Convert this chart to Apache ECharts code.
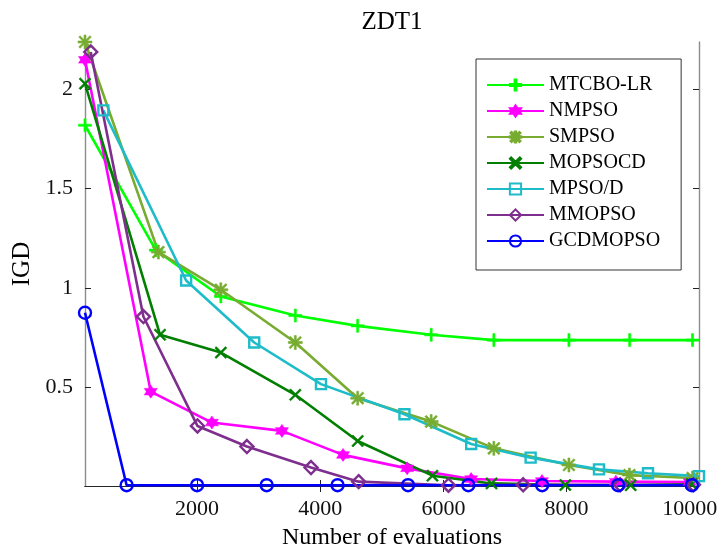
<!DOCTYPE html>
<html>
<head>
<meta charset="utf-8">
<script src="https://cdn.jsdelivr.net/npm/echarts@6/dist/echarts.min.js"></script>
<style>
  html, body { margin: 0; padding: 0; background: #fff; }
  #chart { width: 723px; height: 548px; }
</style>
</head>
<body>
<div id="chart"></div>
<script>
// axis range and tick labels
const xMin = 180, xMax = 10150;
const yMin = 0, yMax = 2.24;
const xTicks = [2000, 4000, 6000, 8000, 10000];
const yTicks = [0.5, 1, 1.5, 2];

// series values
const mtcboX = [180, 1330, 2386, 3595, 4608, 5801, 6819, 8038, 9025, 10045];
const mtcboY = [1.82, 1.19, 0.956, 0.86, 0.808, 0.763, 0.736, 0.736, 0.736, 0.736];
const nmpsoX = [180, 1248, 2240, 3378, 4370, 5411, 6450, 7600, 8800, 10000];
const nmpsoY = [2.15, 0.476, 0.32, 0.278, 0.157, 0.089, 0.035, 0.025, 0.022, 0.02];
const smpsoX = [180, 1372, 2386, 3595, 4608, 5801, 6819, 8038, 9020, 10045];
const smpsoY = [2.24, 1.18, 0.99, 0.724, 0.443, 0.325, 0.19, 0.106, 0.055, 0.04];
const mopsocdX = [180, 1399, 2386, 3595, 4608, 5822, 6781, 7979, 9041, 10030];
const mopsocdY = [2.03, 0.763, 0.673, 0.46, 0.227, 0.052, 0.013, 0.005, 0.004, 0.01];
const mpsodX = [478, 1822, 2928, 4012, 5367, 6451, 7416, 8526, 9322, 10150];
const mpsodY = [1.895, 1.037, 0.724, 0.514, 0.362, 0.212, 0.143, 0.084, 0.064, 0.05];
const mmopsoX = [273, 1128, 2006, 2809, 3850, 4624, 6082, 7295, 8870, 10060];
const mmopsoY = [2.19, 0.855, 0.303, 0.199, 0.093, 0.022, 0.004, 0.006, 0.006, 0.006];
const gcdX = [180, 856, 2000, 3130, 4281, 5425, 6404, 7603, 8836, 10034];
const gcdY = [0.874, 0.004, 0.004, 0.004, 0.004, 0.004, 0.004, 0.004, 0.004, 0.004];

// marker shapes (matlab style)
const plusPath = 'path://M4.2,0H5.8V4.2H10V5.8H5.8V10H4.2V5.8H0V4.2H4.2Z';
const crossPath = 'path://M0,1.1L1.1,0L10,8.9L8.9,10ZM8.9,0L10,1.1L1.1,10L0,8.9Z';
const starPath = 'path://M4.3,0H5.7V4.3H10V5.7H5.7V10H4.3V5.7H0V4.3H4.3ZM0.5,1.5L1.5,0.5L9.5,8.5L8.5,9.5ZM8.5,0.5L9.5,1.5L1.5,9.5L0.5,8.5Z';
const hexPath = 'path://M5,0L9.33,7.5L0.67,7.5ZM5,10L0.67,2.5L9.33,2.5Z';

const font = '"Liberation Serif", "Times New Roman", serif';

function zip(xs, ys) {
  return xs.map((x, i) => [x, ys[i]]);
}

function makeSeries(name, xs, ys, color, symbol, size, hollow) {
  return {
    name: name,
    type: 'line',
    data: zip(xs, ys),
    symbol: symbol,
    symbolSize: size,
    showAllSymbol: true,
    clip: false,
    lineStyle: { color: color, width: 2.6 },
    itemStyle: hollow
      ? { color: 'rgba(255,255,255,0)', borderColor: color, borderWidth: 2.4 }
      : { color: color, borderColor: color, borderWidth: 0.6 },
    emphasis: { disabled: true }
  };
}

const chart = echarts.init(document.getElementById('chart'));

const tickStyle = { inside: true, length: 6, lineStyle: { color: '#222', width: 1 } };

chart.setOption({
  backgroundColor: '#fff',
  animation: false,
  title: {
    text: 'ZDT1',
    left: 392,
    top: 10,
    padding: 0,
    textAlign: 'center',
    textStyle: { fontFamily: font, fontSize: 25, fontWeight: 'normal', color: '#000' }
  },
  grid: { left: 85, right: 24, top: 42, bottom: 62, outerBoundsMode: 'none' },
  legend: {
    orient: 'vertical',
    left: 476,
    top: 59,
    padding: [16, 21, 19, 10],
    itemWidth: 57,
    itemHeight: 14,
    itemGap: 6,
    backgroundColor: '#fff',
    borderColor: '#333',
    borderWidth: 1,
    textStyle: { fontFamily: font, fontSize: 20, lineHeight: 20, color: '#000' }
  },
  xAxis: [{
    type: 'value',
    min: xMin,
    max: xMax,
    name: 'Number of evaluations',
    nameLocation: 'middle',
    nameGap: 40,
    nameTextStyle: { fontFamily: font, fontSize: 24, color: '#000' },
    axisLine: { lineStyle: { color: '#262626', width: 1.2 } },
    axisTick: Object.assign({ customValues: xTicks }, tickStyle),
    axisLabel: {
      customValues: xTicks,
      formatter: v => String(v),
      margin: 12, fontFamily: font, fontSize: 22, color: '#111'
    },
    splitLine: { show: false }
  }, {
    type: 'value',
    position: 'top',
    min: xMin,
    max: xMax,
    axisLine: { lineStyle: { color: '#262626', width: 1.2 } },
    axisTick: Object.assign({ customValues: xTicks }, tickStyle),
    axisLabel: { show: false },
    splitLine: { show: false }
  }],
  yAxis: [{
    type: 'value',
    min: yMin,
    max: yMax,
    name: 'IGD',
    nameLocation: 'middle',
    nameGap: 49,
    nameTextStyle: { fontFamily: font, fontSize: 25, color: '#000' },
    axisLine: { show: true, lineStyle: { color: '#8c8c8c', width: 1.4 } },
    axisTick: Object.assign({ customValues: yTicks }, tickStyle),
    axisLabel: {
      customValues: yTicks,
      formatter: v => String(v),
      margin: 12, fontFamily: font, fontSize: 22, color: '#111'
    },
    splitLine: { show: false }
  }, {
    type: 'value',
    position: 'right',
    min: yMin,
    max: yMax,
    axisLine: { show: true, lineStyle: { color: '#8c8c8c', width: 1.4 } },
    axisTick: Object.assign({ customValues: yTicks }, tickStyle),
    axisLabel: { show: false },
    splitLine: { show: false }
  }],
  series: [
    makeSeries('MTCBO-LR', mtcboX, mtcboY, '#00ff00', plusPath, 13, false),
    makeSeries('NMPSO', nmpsoX, nmpsoY, '#ff00ff', hexPath, 13, false),
    makeSeries('SMPSO', smpsoX, smpsoY, '#77ac30', starPath, 14, false),
    makeSeries('MOPSOCD', mopsocdX, mopsocdY, '#007f00', crossPath, 12, false),
    makeSeries('MPSO/D', mpsodX, mpsodY, '#1ebcc8', 'rect', 10, true),
    makeSeries('MMOPSO', mmopsoX, mmopsoY, '#7e2f8e', 'diamond', 13, true),
    makeSeries('GCDMOPSO', gcdX, gcdY, '#0000ff', 'circle', 12, true)
  ]
});

window.addEventListener('resize', () => chart.resize());
</script>
</body>
</html>
